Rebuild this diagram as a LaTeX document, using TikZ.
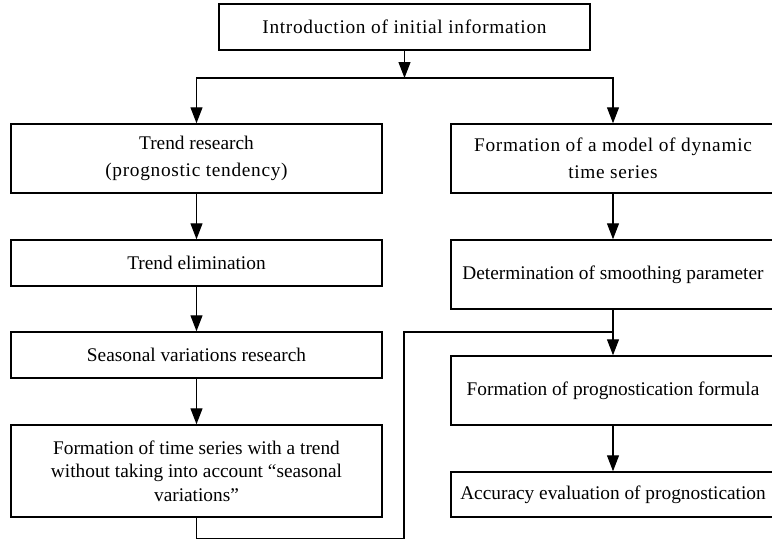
\documentclass[tikz,border=0pt]{standalone}
\usepackage{fontspec}
\setmainfont{Liberation Serif}
\usetikzlibrary{arrows.meta}
\newcommand{\wide}{\addfontfeature{LetterSpace=3.6}}

\begin{document}
\begin{tikzpicture}[x=0.75pt,y=0.75pt,yscale=-1,xscale=1,
  blk/.style={draw,line width=1.1pt,align=center,inner sep=2pt,font=\fontsize{14.5}{17.6}\selectfont},
  wblk/.style={blk,font=\fontsize{14.5}{20.5}\selectfont\wide},
  arr/.style={line width=0.9pt,-{Triangle[length=12pt,width=9pt]}},
  ln/.style={line width=0.9pt}]
\useasboundingbox (0,0) rectangle (772,540);

%Top box
\node[wblk,minimum width=278.25pt,minimum height=34.5pt] (intro) at (404.5,27) {Introduction of initial information};

%Left column
\node[blk,minimum width=278.25pt,minimum height=51.75pt] (trend) at (196.5,158.5) {Trend research\\[2.4pt]{\wide(prognostic tendency)}};
\node[blk,minimum width=278.25pt,minimum height=34.5pt] (elim) at (196.5,263) {Trend elimination};
\node[blk,minimum width=278.25pt,minimum height=34.5pt] (seas) at (196.5,355) {Seasonal variations research};
\node[blk,minimum width=278.25pt,minimum height=69pt] (series) at (196.5,471) {Formation of time series with a trend\\without taking into account ``seasonal\\variations''};

%Right column
\node[wblk,minimum width=243pt,minimum height=51.75pt] (model) at (613,158.5) {Formation of a model of dynamic\\time series};
\node[blk,minimum width=243pt,minimum height=51.75pt] (determ) at (613,274.5) {Determination of smoothing parameter};
\node[blk,minimum width=243pt,minimum height=51.75pt] (prog) at (613,390.5) {Formation of prognostication formula};
\node[blk,minimum width=243pt,minimum height=33.75pt] (acc) at (613,494.5) {Accuracy evaluation of prognostication};

%Junctions
\coordinate (split) at (404.5,78);
\coordinate (loopL) at (404,332);
\coordinate (merge) at (613,332);

%Arrows
\draw[arr] (intro) -- (split);
\draw[arr] (split) -| (trend);
\draw[arr] (split) -| (model);
\draw[arr] (trend) -- (elim);
\draw[arr] (elim) -- (seas);
\draw[arr] (seas) -- (series);
\draw[arr] (model) -- (determ);
\draw[arr] (determ) -- (prog);
\draw[arr] (prog) -- (acc);
\draw[ln] (series.south) -- ++(0,21) -| (loopL) -- (merge);

\end{tikzpicture}
\end{document}
